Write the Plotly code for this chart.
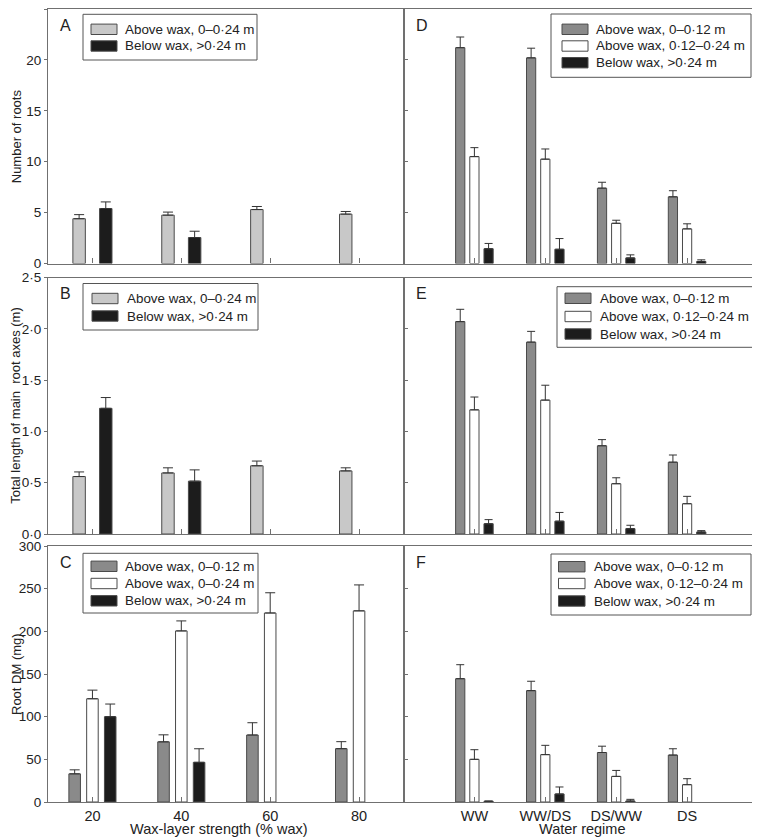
import plotly.graph_objects as go

# ---------------- data ----------------
WAX = ["20", "40", "60", "80"]
REGIME = ["WW", "WW/DS", "DS/WW", "DS"]

A_ABOVE = [4.4, 4.75, 5.3, 4.85]
A_ABOVE_SE = [0.4, 0.3, 0.3, 0.26]
A_BELOW = [5.4, 2.55, None, None]
A_BELOW_SE = [0.65, 0.62, None, None]

B_ABOVE = [0.56, 0.595, 0.665, 0.615]
B_ABOVE_SE = [0.045, 0.05, 0.046, 0.03]
B_BELOW = [1.225, 0.515, None, None]
B_BELOW_SE = [0.105, 0.11, None, None]

C_012 = [33, 70.5, 78.5, 62.5]
C_012_SE = [4.7, 8.2, 14.4, 8.2]
C_024 = [121, 200.5, 221.5, 224]
C_024_SE = [10.1, 11.7, 23.7, 30.4]
C_BELOW = [100, 46.5, None, None]
C_BELOW_SE = [14.8, 15.9, None, None]

D_012 = [21.2, 20.2, 7.4, 6.55]
D_012_SE = [1.05, 0.95, 0.58, 0.6]
D_1224 = [10.5, 10.25, 3.95, 3.4]
D_1224_SE = [0.88, 1.0, 0.3, 0.5]
D_BELOW = [1.45, 1.4, 0.55, 0.2]
D_BELOW_SE = [0.52, 1.05, 0.3, 0.16]

E_012 = [2.07, 1.87, 0.86, 0.70]
E_012_SE = [0.12, 0.105, 0.06, 0.07]
E_1224 = [1.21, 1.305, 0.49, 0.295]
E_1224_SE = [0.125, 0.145, 0.058, 0.072]
E_BELOW = [0.10, 0.125, 0.052, 0.02]
E_BELOW_SE = [0.04, 0.085, 0.033, 0.013]

F_012 = [144.5, 130.5, 58, 55]
F_012_SE = [16.4, 11, 7.4, 7.4]
F_1224 = [50, 55.5, 30, 20.3]
F_1224_SE = [11.3, 10.9, 7, 7]
F_BELOW = [0.8, 9.4, 1.2, None]
F_BELOW_SE = [0.4, 8.2, 1.9, None]

NUM_TICKS = [0, 5, 10, 15, 20, 25]
NUM_TICKTEXT = ["0", "5", "10", "15", "20", "25"]
LEN_TICKS = [0, 0.5, 1.0, 1.5, 2.0, 2.5]
LEN_TICKTEXT = ["0·0", "0·5", "1·0", "1·5", "2·0", "2·5"]
DM_TICKS = [0, 50, 100, 150, 200, 250, 300]
DM_TICKTEXT = ["0", "50", "100", "150", "200", "250", "300"]

LBL_ABOVE_024 = "Above wax, 0–0·24 m"
LBL_ABOVE_012 = "Above wax, 0–0·12 m"
LBL_ABOVE_1224 = "Above wax, 0·12–0·24 m"
LBL_BELOW = "Below wax, >0·24 m"

YTITLES = ["Number of roots", "Total length of main  root axes (m)", "Root DM (mg)"]
XTITLE_LEFT = "Wax-layer strength (% wax)"
XTITLE_RIGHT = "Water regime"
PANEL_LETTERS = ["A", "B", "C", "D", "E", "F"]

# ---------------- styling / geometry ----------------
BODY = 8                      # default page margin around the plot div
W, H = 760 - BODY, 837 - BODY
ML, MR, MT, MB = 40, 2, 1, 35
PW, PH = W - ML - MR, H - MT - MB
PL, PT = BODY + ML, BODY + MT          # page coords of plot-area corner
PB = PT + PH
FONT = "Liberation Sans, Arial, Helvetica, sans-serif"
TXT = "#222222"
LIGHT = "#c8c8c8"
DARK = "#8a8a8a"
BLACK = "#1c1c1c"
WHITE = "#ffffff"
EDGE = "#4a4a4a"
AXC = "#707070"


def PX(px):
    return (px - PL) / PW


def PY(py):
    return (PB - py) / PH


XSPLIT = PX(403.5)
ROWS = [(PY(263.5), 1.0), (PY(534), PY(277.5)), (0.0, PY(546))]

fig = go.Figure()


def add_bar(x, y, se, name, color, xa, ya, center, width, cap):
    fig.add_trace(go.Bar(
        x=x, y=y, name=name, xaxis=xa, yaxis=ya, showlegend=False,
        offset=center - width / 2, width=width,
        marker=dict(color=color, line=dict(color=EDGE, width=1)),
        error_y=dict(type="data", array=se, arrayminus=[0] * len(se),
                     symmetric=False, color="#333333", thickness=1, width=cap),
        hoverinfo="skip",
    ))


# Panel A
add_bar(WAX, A_ABOVE, A_ABOVE_SE, LBL_ABOVE_024, LIGHT, "x", "y", -0.15, 0.14, 5)
add_bar(WAX, A_BELOW, A_BELOW_SE, LBL_BELOW, BLACK, "x", "y", 0.15, 0.14, 5)
# Panel B
add_bar(WAX, B_ABOVE, B_ABOVE_SE, LBL_ABOVE_024, LIGHT, "x2", "y2", -0.15, 0.14, 5)
add_bar(WAX, B_BELOW, B_BELOW_SE, LBL_BELOW, BLACK, "x2", "y2", 0.15, 0.14, 5)
# Panel C
add_bar(WAX, C_012, C_012_SE, LBL_ABOVE_012, DARK, "x3", "y3", -0.2, 0.13, 5)
add_bar(WAX, C_024, C_024_SE, LBL_ABOVE_024, WHITE, "x3", "y3", 0.0, 0.13, 5)
add_bar(WAX, C_BELOW, C_BELOW_SE, LBL_BELOW, BLACK, "x3", "y3", 0.2, 0.13, 5)
# Panel D
add_bar(REGIME, D_012, D_012_SE, LBL_ABOVE_012, DARK, "x4", "y4", -0.2, 0.13, 4)
add_bar(REGIME, D_1224, D_1224_SE, LBL_ABOVE_1224, WHITE, "x4", "y4", 0.0, 0.13, 4)
add_bar(REGIME, D_BELOW, D_BELOW_SE, LBL_BELOW, BLACK, "x4", "y4", 0.2, 0.13, 4)
# Panel E
add_bar(REGIME, E_012, E_012_SE, LBL_ABOVE_012, DARK, "x5", "y5", -0.2, 0.13, 4)
add_bar(REGIME, E_1224, E_1224_SE, LBL_ABOVE_1224, WHITE, "x5", "y5", 0.0, 0.13, 4)
add_bar(REGIME, E_BELOW, E_BELOW_SE, LBL_BELOW, BLACK, "x5", "y5", 0.2, 0.13, 4)
# Panel F
add_bar(REGIME, F_012, F_012_SE, LBL_ABOVE_012, DARK, "x6", "y6", -0.2, 0.13, 4)
add_bar(REGIME, F_1224, F_1224_SE, LBL_ABOVE_1224, WHITE, "x6", "y6", 0.0, 0.13, 4)
add_bar(REGIME, F_BELOW, F_BELOW_SE, LBL_BELOW, BLACK, "x6", "y6", 0.2, 0.13, 4)

layout = dict(
    width=W, height=H,
    margin=dict(l=ML, r=MR, t=MT, b=MB, autoexpand=False),
    paper_bgcolor="white", plot_bgcolor="white",
    font=dict(family=FONT, size=13, color=TXT),
    barmode="overlay",
    showlegend=False,
)

base_x = dict(showline=True, mirror=True, linecolor=AXC, linewidth=1.2,
              showgrid=False, zeroline=False, ticks="inside", ticklen=5,
              tickcolor=AXC, tickwidth=1, type="category", fixedrange=True,
              tickfont=dict(family=FONT, size=14.5, color=TXT))
base_y = dict(showline=True, mirror=True, linecolor=AXC, linewidth=1.2,
              showgrid=False, zeroline=False, tickcolor=AXC, tickwidth=1,
              fixedrange=True, tickfont=dict(family=FONT, size=13.5, color=TXT))

yspecs = [(NUM_TICKS, NUM_TICKTEXT, [0, 25]),
          (LEN_TICKS, LEN_TICKTEXT, [0, 2.5]),
          (DM_TICKS, DM_TICKTEXT, [0, 300])]

for col in range(2):
    for row in range(3):
        idx = col * 3 + row + 1
        xk = "xaxis" if idx == 1 else f"xaxis{idx}"
        yk = "yaxis" if idx == 1 else f"yaxis{idx}"
        xa = dict(base_x)
        ya = dict(base_y)
        xa["domain"] = [0, XSPLIT] if col == 0 else [XSPLIT, 1]
        xa["anchor"] = "y" if idx == 1 else f"y{idx}"
        ya["anchor"] = "x" if idx == 1 else f"x{idx}"
        ya["domain"] = list(ROWS[row])
        xa["range"] = [-0.5, 3.5] if col == 0 else [-1, 4]
        xa["categoryorder"] = "array"
        xa["categoryarray"] = WAX if col == 0 else REGIME
        xa["showticklabels"] = (row == 2)
        tv, tt, rg = yspecs[row]
        ya["range"] = rg
        ya["tickvals"] = tv
        ya["ticktext"] = tt
        if col == 0:
            ya["ticks"] = "outside"
            ya["ticklen"] = 3
            ya["showticklabels"] = True
        else:
            ya["ticks"] = "inside"
            ya["ticklen"] = 4
            ya["showticklabels"] = False
        layout[xk] = xa
        layout[yk] = ya

fig.update_layout(**layout)

# ---------------- hand-drawn legend boxes ----------------
# (box x0, y0, x1, y1), (swatch x0, x1), text x, row centres, items
LEGENDS = [
    ((83, 14.3, 257, 60), (91, 117), 123.3, [29.3, 46.0],
     [(LIGHT, LBL_ABOVE_024), (BLACK, LBL_BELOW)]),
    ((83, 283.5, 258, 330), (92, 118), 125, [298.5, 316.0],
     [(LIGHT, LBL_ABOVE_024), (BLACK, LBL_BELOW)]),
    ((83, 553.3, 258, 613), (91, 117), 123.3, [566.3, 583.5, 600.8],
     [(DARK, LBL_ABOVE_012), (WHITE, LBL_ABOVE_024), (BLACK, LBL_BELOW)]),
    ((551, 14, 751, 77.3), (562, 588), 594.3, [29.3, 46.0, 62.7],
     [(DARK, LBL_ABOVE_012), (WHITE, LBL_ABOVE_1224), (BLACK, LBL_BELOW)]),
    ((557, 286.7, 755, 347.3), (565, 591), 597.7, [298.3, 316.5, 334.0],
     [(DARK, LBL_ABOVE_012), (WHITE, LBL_ABOVE_1224), (BLACK, LBL_BELOW)]),
    ((551, 554, 751, 615), (558.5, 585), 591.7, [566.7, 583.5, 601.0],
     [(DARK, LBL_ABOVE_012), (WHITE, LBL_ABOVE_1224), (BLACK, LBL_BELOW)]),
]

for (bx0, by0, bx1, by1), (sx0, sx1), tx, rows, items in LEGENDS:
    fig.add_shape(type="rect", xref="paper", yref="paper",
                  x0=PX(bx0), x1=PX(bx1), y0=PY(by1), y1=PY(by0),
                  line=dict(color="#555555", width=1), fillcolor="white",
                  layer="above")
    for ry, (color, label) in zip(rows, items):
        fig.add_shape(type="rect", xref="paper", yref="paper",
                      x0=PX(sx0), x1=PX(sx1), y0=PY(ry + 5.2), y1=PY(ry - 5.2),
                      line=dict(color=EDGE, width=1), fillcolor=color,
                      layer="above")
        fig.add_annotation(text=label, showarrow=False, xref="paper", yref="paper",
                           x=PX(tx), y=PY(ry), xanchor="left", yanchor="middle",
                           font=dict(family=FONT, size=13.4, color=TXT))

# panel letters
for i, letter in enumerate(PANEL_LETTERS):
    idx = i + 1
    fig.add_annotation(text=letter, showarrow=False,
                       xref=("x domain" if idx == 1 else f"x{idx} domain"),
                       yref=("y domain" if idx == 1 else f"y{idx} domain"),
                       x=0, y=1, xanchor="left", yanchor="middle",
                       xshift=10, yshift=-16,
                       font=dict(family=FONT, size=16, color=TXT))

# axis titles (rotated; kept inside the figure's left edge)
for row, t in enumerate(YTITLES):
    lo, hi = ROWS[row]
    fig.add_annotation(text=t, showarrow=False, textangle=-90,
                       xref="paper", yref="paper", x=0, y=(lo + hi) / 2,
                       xanchor="center", yanchor="middle", xshift=-32,
                       font=dict(family=FONT, size=13, color=TXT))

fig.add_annotation(text=XTITLE_LEFT, showarrow=False,
                   xref="paper", yref="paper", x=PX(219), y=0,
                   xanchor="center", yanchor="middle", yshift=-27,
                   font=dict(family=FONT, size=14.5, color=TXT))
fig.add_annotation(text=XTITLE_RIGHT, showarrow=False,
                   xref="paper", yref="paper", x=PX(582), y=0,
                   xanchor="center", yanchor="middle", yshift=-27,
                   font=dict(family=FONT, size=14.5, color=TXT))

fig.write_html("out.html")
